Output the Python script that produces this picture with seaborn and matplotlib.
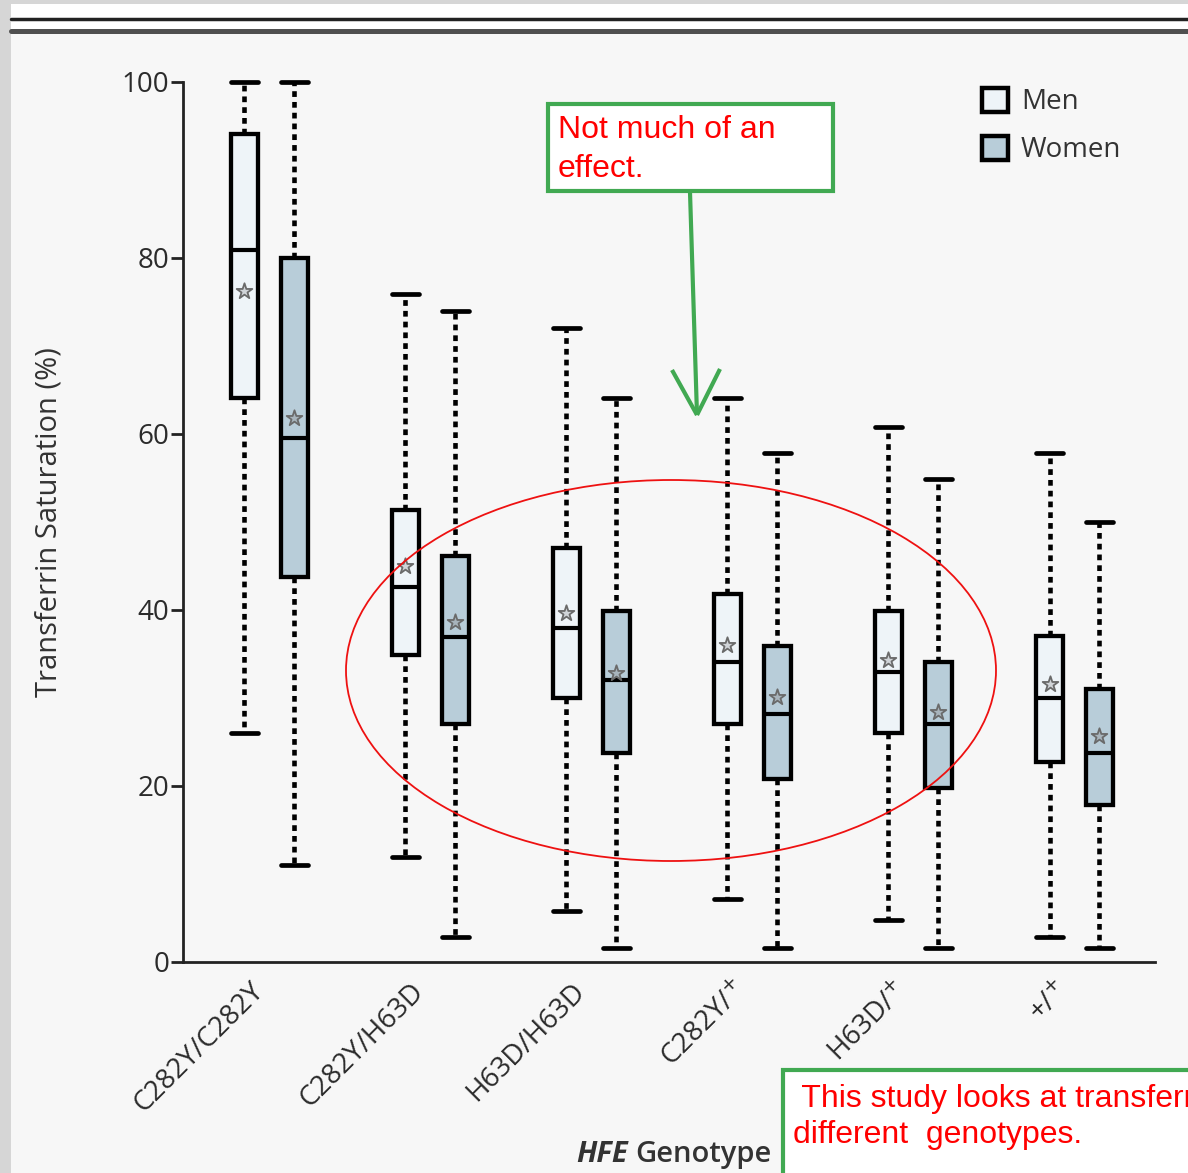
import numpy as np
import pandas as pd
import matplotlib
matplotlib.use("Agg")
import matplotlib.pyplot as plt
import matplotlib.transforms as mtransforms
import seaborn as sns
from matplotlib.patches import Rectangle, Ellipse, Patch
from matplotlib.lines import Line2D

# ---------------- data ----------------
genotypes = ["C282Y/C282Y", "C282Y/H63D", "H63D/H63D", "C282Y/+", "H63D/+", "+/+"]
tick_labels = ["C282Y/C282Y", "C282Y/H63D", "H63D/H63D",
               "C282Y/$^{+}$", "H63D/$^{+}$", "+/$^{+}$"]
sexes = ["Men", "Women"]

men_low = [26.0, 11.9, 5.8, 7.2, 4.8, 2.8]
men_q1 = [64.1, 34.9, 30.0, 27.0, 26.0, 22.7]
men_med = [80.9, 42.6, 38.0, 34.1, 33.0, 30.0]
men_q3 = [94.1, 51.4, 47.0, 41.8, 39.9, 37.0]
men_high = [100.0, 75.9, 72.0, 64.1, 60.8, 57.8]
men_mean = [76.2, 45.0, 39.7, 36.0, 34.3, 31.6]

women_low = [11.0, 2.8, 1.6, 1.6, 1.6, 1.6]
women_q1 = [43.75, 27.0, 23.75, 20.8, 19.8, 17.8]
women_med = [59.5, 36.9, 32.0, 28.2, 27.0, 23.75]
women_q3 = [80.0, 46.1, 39.9, 35.9, 34.1, 31.0]
women_high = [100.0, 74.0, 64.1, 57.8, 54.9, 50.0]
women_mean = [61.8, 38.6, 32.8, 30.1, 28.4, 25.7]

yticks = [0, 20, 40, 60, 80, 100]

# long-form table: five summary points per box give exact quartiles
rows = []
for sex, lows, q1s, meds, q3s, highs in [
    ("Men", men_low, men_q1, men_med, men_q3, men_high),
    ("Women", women_low, women_q1, women_med, women_q3, women_high),
]:
    for g, lo, a, m, b, hi in zip(genotypes, lows, q1s, meds, q3s, highs):
        for v in (lo, a, m, b, hi):
            rows.append({"Genotype": g, "Sex": sex, "TSAT": v})
df = pd.DataFrame(rows)

# ---------------- styling ----------------
W, H = 1188, 1173
sns.set_theme(style="white")
plt.rcParams["font.family"] = ["Open Sans", "DejaVu Sans"]

palette = {"Men": "#eef4f8", "Women": "#b8cdd9"}
GROUP_W = 0.62
GAP = 0.46
box_w = GROUP_W / 2 * (1 - GAP)

fig = plt.figure(figsize=(W / 100, H / 100), dpi=100)
fig.patch.set_facecolor("#d6d6d6")


def P(x, y):
    return (x / W, 1 - y / H)


# background panel and top rules
fig.add_artist(Rectangle(P(11, H), (W - 11) / W, (H - 33) / H,
                         transform=fig.transFigure, facecolor="#f7f7f7",
                         edgecolor="none", zorder=-10))
fig.add_artist(Rectangle(P(11, 33), (W - 11) / W, 29 / H,
                         transform=fig.transFigure, facecolor="white",
                         edgecolor="none", zorder=-10))
fig.add_artist(Line2D([11 / W, 1], [1 - 18.5 / H] * 2, transform=fig.transFigure,
                      color="#222222", lw=2.5, zorder=-9))
fig.add_artist(Line2D([11 / W, 1], [1 - 31 / H] * 2, transform=fig.transFigure,
                      color="#505050", lw=3.6, zorder=-9))

ax = fig.add_axes([183 / W, 1 - 962 / H, (1155 - 183) / W, (962 - 82) / H])
ax.set_facecolor("none")

sns.boxplot(data=df, x="Genotype", y="TSAT", hue="Sex", order=genotypes,
            hue_order=sexes, palette=palette, saturation=1, width=GROUP_W,
            gap=GAP, whis=(0, 100), linecolor="black", linewidth=3.1,
            showfliers=False, legend=False, ax=ax, capwidths=box_w,
            whiskerprops=dict(linestyle=(0, (1.25, 1.1)), linewidth=3.3),
            capprops=dict(linewidth=3.4),
            medianprops=dict(linewidth=3, color="black"))

off = GROUP_W / 4
pos = np.arange(len(genotypes))
ax.scatter(pos - off, men_mean, marker="*", s=140, facecolors="#d0d4d8",
           edgecolors="#6a6a6a", linewidths=1.3, zorder=5)
ax.scatter(pos + off, women_mean, marker="*", s=140, facecolors="#a8b4bc",
           edgecolors="#6a6a6a", linewidths=1.3, zorder=5)

for art in ax.lines + ax.patches:
    art.set_clip_on(False)

ax.set_xlim(-0.535, 5.5)
ax.set_ylim(0, 100)
ax.set_yticks(yticks)
ax.set_xticks(pos)
ax.tick_params(axis="y", left=True, length=9, width=2, color="#222",
               labelsize=20, labelcolor="#2b2b2b", pad=1)
ax.tick_params(axis="x", bottom=False, pad=10)
ax.set_xticklabels(tick_labels, rotation=45, ha="right", va="top",
                   rotation_mode="anchor", fontsize=20, color="#2b2b2b")
shift = mtransforms.ScaledTranslation(-20 / 100, 7 / 100, fig.dpi_scale_trans)
for lab in ax.get_xticklabels():
    lab.set_transform(lab.get_transform() + shift)
for s in ["top", "right"]:
    ax.spines[s].set_visible(False)
for s in ["left", "bottom"]:
    ax.spines[s].set_color("#222")
    ax.spines[s].set_linewidth(2)

ax.set_xlabel("")
ax.set_ylabel("Transferrin Saturation (%)", fontsize=21, color="#333")
ax.yaxis.set_label_coords((64 - 183) / 972, 0.5)

fig.text(*P(628, 1162), "HFE", style="italic", weight="bold", fontsize=21,
         color="#333", ha="right", va="baseline")
fig.text(*P(635, 1162), "Genotype", weight="semibold", fontsize=21,
         color="#333", ha="left", va="baseline")

# legend
handles = [Patch(facecolor=palette[s], edgecolor="black", linewidth=3.2, label=s)
           for s in sexes]
ax.legend(handles=handles, loc="upper left", bbox_to_anchor=P(968, 74),
          bbox_transform=fig.transFigure, frameon=False, fontsize=20,
          handlelength=0.95, handleheight=0.95, handletextpad=0.45,
          labelspacing=0.7, borderpad=0, labelcolor="#333")

# ---------------- annotations ----------------
GREEN = "#41a952"
RED = "#ff0000"
afont = ["Liberation Sans", "DejaVu Sans"]

x0, y0, x1, y1 = 548, 104, 833, 191
fig.add_artist(Rectangle(P(x0, y1), (x1 - x0) / W, (y1 - y0) / H,
                         transform=fig.transFigure, facecolor="white",
                         edgecolor=GREEN, linewidth=3, zorder=20))
fig.text(*P(558, 138), "Not much of an", color=RED, fontsize=23,
         family=afont, va="baseline", zorder=21)
fig.text(*P(558, 177), "effect.", color=RED, fontsize=23,
         family=afont, va="baseline", zorder=21)

# arrow
for xs, ys in [((690, 697), (192, 415)), ((672, 697), (370, 415)),
               ((720, 697), (369, 415))]:
    fig.add_artist(Line2D([x / W for x in xs], [1 - y / H for y in ys],
                          transform=fig.transFigure, color=GREEN, lw=3,
                          solid_capstyle="butt", zorder=20))

# ellipse
fig.add_artist(Ellipse(P(671, 670.5), 650 / W, 381 / H,
                       transform=fig.transFigure, facecolor="none",
                       edgecolor="#ee1111", linewidth=1.3, zorder=20))

# bottom note (clipped by the figure edge like the reference)
bx0, by0 = 783, 1070
fig.add_artist(Rectangle(P(bx0, H + 40), (W + 40 - bx0) / W, (H + 40 - by0) / H,
                         transform=fig.transFigure, facecolor="white",
                         edgecolor=GREEN, linewidth=3, zorder=20))
fig.text(*P(793, 1107), " This study looks at transferrin saturation in",
         color=RED, fontsize=23, family=afont, va="baseline", zorder=21)
fig.text(*P(793, 1143), "different  genotypes.", color=RED, fontsize=23,
         family=afont, va="baseline", zorder=21)

fig.savefig("out.png", dpi=100, facecolor=fig.get_facecolor())
